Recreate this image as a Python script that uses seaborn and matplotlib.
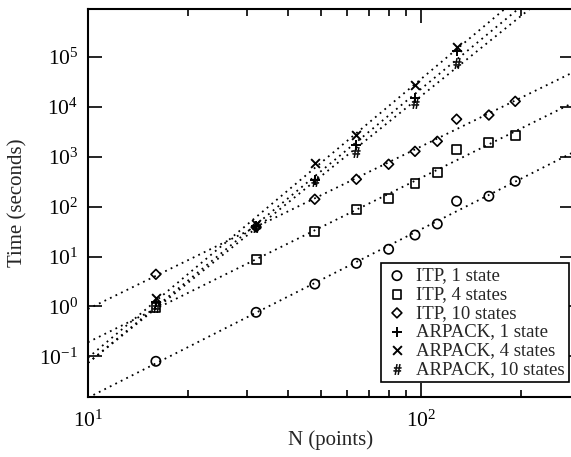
import numpy as np
import pandas as pd
import matplotlib
matplotlib.use("Agg")
import matplotlib.pyplot as plt
from matplotlib.ticker import NullLocator, FixedLocator
import seaborn as sns

# grid sizes
n_itp = [16, 32, 48, 64, 80, 96, 112, 128, 160, 192]
n_arp = [16, 32, 48, 64, 96, 128]

# timings (seconds)
itp_1 = [0.079, 0.76, 2.8, 7.3, 14, 27, 45, 129, 162, 325]
itp_4 = [0.95, 8.8, 32, 89, 148, 296, 490, 1400, 1950, 2700]
itp_10 = [4.4, 39, 141, 355, 710, 1290, 2050, 5700, 6900, 13000]
arp_1 = [1.2, 41, 340, 1700, 15000, 132000]
arp_4 = [1.5, 45, 740, 2700, 27500, 160000]
arp_10 = [0.95, 39, 325, 1230, 12000, 76000]

y_ticks = [1e-1, 1e0, 1e1, 1e2, 1e3, 1e4, 1e5]

series = [
    ("ITP, 1 state", n_itp, itp_1, "o"),
    ("ITP, 4 states", n_itp, itp_4, "s"),
    ("ITP, 10 states", n_itp, itp_10, "D"),
    ("ARPACK, 1 state", n_arp, arp_1, "+"),
    ("ARPACK, 4 states", n_arp, arp_4, "x"),
    ("ARPACK, 10 states", n_arp, arp_10, r"$\#$"),
]

sns.set_style("ticks")
plt.rcParams["font.family"] = ["Liberation Serif", "DejaVu Serif"]
plt.rcParams["mathtext.fontset"] = "stix"

fig = plt.figure(figsize=(5.71, 4.57), dpi=100)
ax = fig.add_axes([0.154, 0.131, 0.851, 0.849])
ax.set_xscale("log")
ax.set_yscale("log")

xmin, xmax = 10, 288
n_fit = np.logspace(np.log10(xmin), np.log10(xmax), 60)

for label, n, t, m in series:
    # power-law fit, drawn dotted
    p = np.polyfit(np.log10(n), np.log10(t), 1)
    fit = pd.DataFrame({"N": n_fit, "T": 10 ** np.polyval(p, np.log10(n_fit))})
    sns.lineplot(data=fit, x="N", y="T", ax=ax, color="k", lw=1.3,
                 linestyle=(0, (1, 2.4)), legend=False)
    df = pd.DataFrame({"N": n, "T": t})
    if m in ("o", "s", "D"):
        size = {"o": 45, "s": 40, "D": 25}[m]
        sns.scatterplot(data=df, x="N", y="T", ax=ax, marker=m, s=size,
                        color="k", facecolor="none", edgecolor="k",
                        linewidth=1.2, label=label, zorder=3)
    else:
        size = {"+": 60, "x": 40}.get(m, 55)
        lw = 1.4 if m in ("+", "x") else 0.4
        sns.scatterplot(data=df, x="N", y="T", ax=ax, marker=m, s=size,
                        color="k", edgecolor="k", linewidth=lw,
                        label=label, zorder=3)

ax.set_xlim(xmin, xmax)
ax.set_ylim(0.0151, 9.2e5)
ax.yaxis.set_major_locator(FixedLocator(y_ticks))
ax.yaxis.set_minor_locator(NullLocator())

ax.tick_params(which="both", direction="in", top=True, right=True,
               width=1.2, colors="k")
ax.tick_params(which="major", length=10, labelsize=15.5)
ax.tick_params(which="minor", length=5)
ax.tick_params(axis="y", pad=7)
ax.tick_params(axis="x", pad=10)
for s in ax.spines.values():
    s.set_linewidth(1.5)
    s.set_color("k")

ax.set_xlabel("N (points)", fontsize=15)
ax.set_ylabel("Time (seconds)", fontsize=15)
ax.xaxis.set_label_coords(0.5, -0.085)
ax.yaxis.set_label_coords(-0.125, 0.5)

leg = ax.legend(loc="lower right", bbox_to_anchor=(0.99, 0.038), fontsize=13.5,
                frameon=True, fancybox=False, edgecolor="k", framealpha=1,
                labelspacing=0.08, handletextpad=0.4, borderpad=0.25,
                handlelength=1.2, borderaxespad=0)
leg.get_frame().set_linewidth(1.2)

fig.savefig("out.png", dpi=100)
